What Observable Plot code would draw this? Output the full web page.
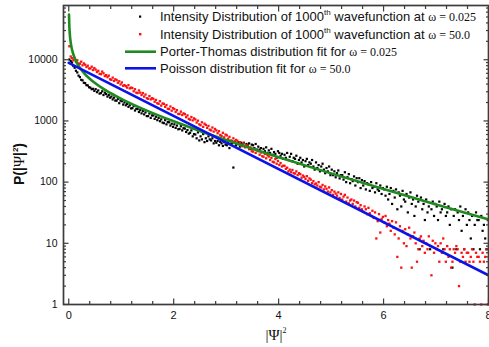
<!DOCTYPE html>
<html>
<head>
<meta charset="utf-8">
<script src="https://cdn.jsdelivr.net/npm/d3@7"></script>
<script src="https://cdn.jsdelivr.net/npm/@observablehq/plot@0.6"></script>
<style>
  html, body { margin: 0; padding: 0; background: white; }
  svg { display: block; }
</style>
</head>
<body>
<div id="chart"></div>
<script>
// ---- data ----
const binStart = 0.0125;
const binStep = 0.025;

// omega = 0.025 intensity histogram (black)
const blackY = [
  10100, 9500, 9000, 7900,  7400, 6600, 6200, 5500,  5200, 4700, 4600, 4200,  4150, 3850, 3800, 3550,
  3500, 3300, 3350, 3100,  3300, 2950, 3150, 2800,  2850, 3050, 2650, 2900,  2750, 2500, 2650, 2400,
  2500, 2250, 2400, 2150,  2150, 2300, 1950, 2150,  2100, 1850, 2000, 1800,  1900, 1700, 1800, 1600,
  1620, 1750, 1480, 1580,  1560, 1400, 1500, 1330,  1450, 1280, 1380, 1200,  1200, 1320, 1120, 1230,
  1230, 1080, 1170, 1030,  1120, 990, 1060, 940,  920, 1030, 880, 960,  950, 840, 900, 800,
  880, 770, 840, 730,  740, 820, 700, 760,  750, 660, 710, 620,  640, 700, 560, 610,
  600, 520, 650, 480,  560, 500, 610, 450,  520, 470, 560, 500,  480, 520, 430, 470,
  440, 470, 400, 455,  430, 390, 450, 410,  400, 440, 360, 420,  430, 173, 460, 400,
  420, 450, 380, 440,  410, 440, 380, 420,  400, 430, 350, 410,  400, 360, 420, 340,
  380, 340, 360, 310,  350, 320, 370, 300,  330, 300, 350, 280,  310, 290, 250, 320,
  300, 270, 290, 240,  280, 250, 300, 230,  260, 290, 220, 250,  240, 270, 200, 230,
  250, 210, 230, 180,  220, 240, 190, 210,  200, 230, 180, 160,  210, 170, 190, 150,
  180, 200, 160, 140,  170, 150, 180, 130,  160, 130, 150, 120,  140, 155, 115, 130,
  130, 110, 145, 100,  120, 135, 96, 112,  104, 124, 88, 116,  100, 116, 80, 108,
  88, 104, 76, 96,  92, 72, 100, 80,  84, 68, 96, 76,  72, 88, 64, 80,
  76, 60, 84, 52,  64, 80, 44, 72,  56, 76, 36, 68,  60, 40, 72, 52,
  48, 64, 32, 56,  68, 44, 52, 28,  40, 60, 48, 8,  56, 36, 44, 24,
  52, 32, 40, 8,  36, 48, 28, 44,  40, 24, 48, 32,  36, 8, 44, 28,
  32, 40, 20, 36,  4, 28, 36, 8,  32, 24, 40, 16,  28, 8, 36, 20,
  32, 24, 12, 28,  8, 20, 32, 24,  24, 8, 28, 16,  20, 12, 8, 24
];

// omega = 50.0 intensity histogram (red)
const redY = [
  16600, 11300, 10600, 9800,  10300, 9200, 9800, 8700,  8600, 9300, 8100, 8700,  8300, 7600, 8000, 7200,
  7200, 7700, 6800, 7300,  6900, 6300, 6600, 5900,  5800, 6400, 6000, 5400,  5600, 5200, 5500, 4800,
  4700, 5100, 4500, 4800,  4650, 4200, 4450, 3950,  4250, 3750, 3850, 3700,  3500, 3850, 3400, 3500,
  3450, 3050, 3300, 2900,  2850, 3150, 2900, 2650,  2850, 2500, 2700, 2350,  2300, 2550, 2250, 2350,
  2300, 2060, 2200, 1950,  1900, 2100, 1780, 1930,  1900, 1700, 1820, 1580,  1560, 1720, 1470, 1620,
  1560, 1400, 1500, 1300,  1300, 1420, 1250, 1330,  1290, 1150, 1230, 1080,  1050, 1160, 1020, 1100,
  1060, 940, 1010, 880,  850, 950, 800, 900,  860, 770, 830, 720,  700, 780, 670, 740,
  700, 630, 680, 590,  570, 640, 540, 600,  580, 510, 550, 480,  470, 520, 455, 490,
  475, 420, 450, 395,  385, 430, 370, 400,  390, 345, 370, 320,  315, 350, 300, 330,
  320, 280, 305, 265,  260, 290, 245, 275,  262, 230, 250, 215,  210, 238, 200, 222,
  190, 205, 180, 185,  185, 165, 172, 150,  160, 145, 158, 140,  138, 150, 130, 140,
  135, 118, 128, 122,  112, 125, 105, 115,  110, 96, 104, 92,  95, 88, 100, 84,
  82, 90, 76, 85,  78, 70, 82, 68,  74, 62, 70, 65,  60, 68, 55, 64,
  52, 58, 62, 48,  56, 45, 50, 52,  44, 50, 40, 47,  46, 38, 42, 36,
  33, 40, 36, 30,  38, 31, 28, 34,  26, 32, 12, 23,  30, 15, 25, 27,
  22, 28, 19, 24,  21, 16, 23, 18,  14, 22, 6, 12,  19, 4, 16, 10,
  17, 9, 14, 18,  12, 4, 13, 15,  10, 5, 8, 12,  13, 9, 11, 7,
  10, 8, 13, 9,  3, 11, 7, 10,  8, 9, 5, 10,  7, 12, 8, 5,
  9, 6, 8, 4,  5, 8, 7, 9,  8, 2, 5, 7,  6, 8, 5, 7,
  7, 5, 6, 8,  5, 1, 7, 6,  6, 5, 1, 7,  5, 6, 8, 1
];

// Porter-Thomas fit (green)
const greenX = [0.005, 0.01, 0.02, 0.04, 0.07, 0.1, 0.15, 0.2, 0.3, 0.4, 0.5, 0.7, 1.0, 1.5, 2.0, 2.5, 3.0, 3.5, 4.0, 5.0, 6.0, 7.0, 8.0];
const greenY = [55000, 37600, 26500, 18500, 13800, 11400, 9070, 7660, 5950, 4900, 4170, 3190, 2300, 1460, 985, 686, 488, 352, 256, 139, 77, 43.2, 24.5];

// Poisson fit (blue), straight on the log axis
const blueX = [0, 8];
const blueY = [8900, 3.0];

// axis ticks
const xMajor = [0, 2, 4, 6, 8];
const xMinor = [0.4, 0.8, 1.2, 1.6, 2.4, 2.8, 3.2, 3.6, 4.4, 4.8, 5.2, 5.6, 6.4, 6.8, 7.2, 7.6];
const yMajor = [1, 10, 100, 1000, 10000];
const yMinor = [2,3,4,5,6,7,8,9, 20,30,40,50,60,70,80,90, 200,300,400,500,600,700,800,900,
                2000,3000,4000,5000,6000,7000,8000,9000, 20000,30000,40000,50000,60000,70000];

// legend entries
const legendLabels = [
  {pre: "Intensity Distribution of 1000", sup: "th", post: " wavefunction at ", w: "ω = 0.025"},
  {pre: "Intensity Distribution of 1000", sup: "th", post: " wavefunction at ", w: "ω = 50.0"},
  {pre: "Porter-Thomas distribution fit for ", sup: "", post: "", w: "ω = 0.025"},
  {pre: "Poisson distribution fit for ", sup: "", post: "", w: "ω = 50.0"}
];

// ---- build tables ----
const black = blackY.map((y, i) => ({x: binStart + i * binStep, y})).filter(d => d.y > 0);
const red = redY.map((y, i) => ({x: binStart + i * binStep, y})).filter(d => d.y > 0);
const green = greenX.map((x, i) => ({x, y: greenY[i]}));
const blue = blueX.map((x, i) => ({x, y: blueY[i]}));

const axisColor = "#3c3c3c";
const sans = "'Liberation Sans', Arial, Helvetica, sans-serif";
const serif = "'Liberation Serif', 'Times New Roman', serif";
const fmt = d => String(d);

const plot = Plot.plot({
  width: 489,
  height: 347,
  marginLeft: 63,
  marginRight: 1,
  marginTop: 5,
  marginBottom: 43,
  style: {fontFamily: sans, fontSize: "10.5px", color: "#111", background: "white"},
  x: {domain: [-0.1, 8.0], axis: null},
  y: {type: "log", domain: [1, 77000], axis: null},
  marks: [
    Plot.dot(black, {x: "x", y: "y", symbol: "square", r: 1.25, fill: "#000", stroke: "none"}),
    Plot.dot(red, {x: "x", y: "y", symbol: "square", r: 1.3, fill: "#ff1010", stroke: "none"}),
    Plot.line(green, {x: "x", y: "y", stroke: "#1f8a1f", strokeWidth: 2.6, curve: "monotone-x"}),
    Plot.line(blue, {x: "x", y: "y", stroke: "#0a14e6", strokeWidth: 2.6}),
    // inward ticks on all four sides
    Plot.axisX(xMajor, {anchor: "bottom", tickSize: -5.5, tickFormat: () => "", stroke: axisColor, strokeWidth: 1.2, label: null}),
    Plot.axisX(xMinor, {anchor: "bottom", tickSize: -3, tickFormat: () => "", stroke: axisColor, strokeWidth: 1.2, label: null}),
    Plot.axisX(xMajor, {anchor: "top", tickSize: -5.5, tickFormat: () => "", stroke: axisColor, strokeWidth: 1.2, label: null}),
    Plot.axisX(xMinor, {anchor: "top", tickSize: -3, tickFormat: () => "", stroke: axisColor, strokeWidth: 1.2, label: null}),
    Plot.axisY(yMajor, {anchor: "left", tickSize: -5.5, tickFormat: () => "", stroke: axisColor, strokeWidth: 1.2, label: null}),
    Plot.axisY(yMinor, {anchor: "left", tickSize: -3, tickFormat: () => "", stroke: axisColor, strokeWidth: 1.2, label: null}),
    Plot.axisY(yMajor, {anchor: "right", tickSize: -5.5, tickFormat: () => "", stroke: axisColor, strokeWidth: 1.2, label: null}),
    Plot.axisY(yMinor, {anchor: "right", tickSize: -3, tickFormat: () => "", stroke: axisColor, strokeWidth: 1.2, label: null}),
    // tick labels
    Plot.axisX(xMajor, {anchor: "bottom", tickSize: 0, tickPadding: 7, tickFormat: fmt, fontSize: 11, fill: "#111", label: null}),
    Plot.axisY(yMajor, {anchor: "left", tickSize: 0, tickPadding: 6, tickFormat: fmt, fontSize: 10.5, fill: "#111", label: null}),
    Plot.frame({stroke: axisColor, strokeWidth: 1.7})
  ]
});

document.getElementById("chart").appendChild(plot);

// ---- axis titles and legend ----
const svg = d3.select(plot);

const yt = svg.append("text")
  .attr("transform", "translate(24,164) rotate(-90)")
  .attr("text-anchor", "middle")
  .attr("font-family", sans)
  .attr("font-size", 14)
  .attr("font-weight", "bold")
  .attr("fill", "#111");
yt.append("tspan").text("P(|");
yt.append("tspan").attr("font-family", serif).attr("font-weight", "normal").attr("font-size", 15).text("Ψ");
yt.append("tspan").text("|");
yt.append("tspan").attr("font-size", 8).attr("dy", -6).text("2");
yt.append("tspan").attr("dy", 6).text(")");

const xt = svg.append("text")
  .attr("x", 276).attr("y", 340)
  .attr("text-anchor", "middle")
  .attr("font-family", serif)
  .attr("font-size", 15)
  .attr("fill", "#111");
xt.append("tspan").text("|Ψ|");
xt.append("tspan").attr("font-size", 8).attr("dy", -7).text("2");

const lg = svg.append("g")
  .attr("font-family", sans)
  .attr("font-size", 13)
  .attr("text-anchor", "start")
  .attr("fill", "#111");
const baselines = [21, 38.5, 56, 72.5];
legendLabels.forEach((d, i) => {
  const t = lg.append("text").attr("x", 160).attr("y", baselines[i]).attr("text-anchor", "start");
  t.append("tspan").text(d.pre);
  if (d.sup) {
    t.append("tspan").attr("font-size", 8).attr("dy", -6).text(d.sup);
    t.append("tspan").attr("dy", 6).text(d.post);
  }
  t.append("tspan").attr("font-family", serif).attr("font-size", 12).text(d.w);
});
// legend keys
lg.append("rect").attr("x", 139).attr("y", 15.5).attr("width", 2.2).attr("height", 2.2).attr("fill", "#000");
lg.append("rect").attr("x", 139).attr("y", 33).attr("width", 2.4).attr("height", 2.4).attr("fill", "#ff1010");
lg.append("line").attr("x1", 125).attr("x2", 156).attr("y1", 51.7).attr("y2", 51.7).attr("stroke", "#1f8a1f").attr("stroke-width", 2.6);
lg.append("line").attr("x1", 125).attr("x2", 156).attr("y1", 68.3).attr("y2", 68.3).attr("stroke", "#0a14e6").attr("stroke-width", 2.6);
</script>
</body>
</html>
